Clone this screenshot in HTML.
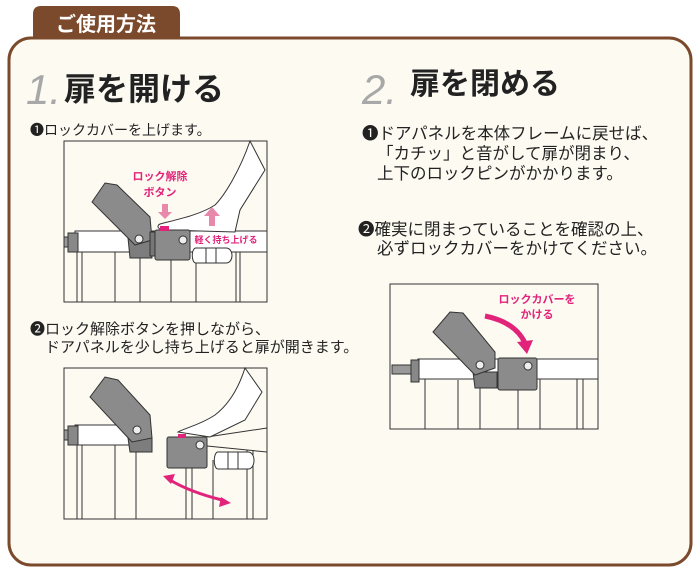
<!DOCTYPE html>
<html><head><meta charset="utf-8"><style>
html,body{margin:0;padding:0;background:#fff;}
svg{display:block}
text{font-family:"Liberation Sans","Noto Sans CJK JP",sans-serif;}
</style></head><body>
<svg width="700" height="572" viewBox="0 0 700 572" xmlns="http://www.w3.org/2000/svg">
<rect width="700" height="572" fill="#fff"/>
<path d="M33 38 L33 14 Q33 6 41 6 L172 6 Q180 6 180 14 L180 38 Z" fill="#7b4a2c"/>
<text x="106" y="31" font-size="20" font-weight="bold" fill="#fff" text-anchor="middle">ご使用方法</text>
<rect x="9" y="38" width="682" height="527" rx="22" fill="#fdfaf2" stroke="#7b4a2c" stroke-width="3"/>

<text x="26" y="104" font-size="42" font-style="italic" fill="#a8a8a8">1.</text>
<text x="64" y="100" font-size="32" font-weight="bold" fill="#222">扉を開ける</text>
<text x="362" y="104" font-size="42" font-style="italic" fill="#a8a8a8">2.</text>
<text x="410" y="94" font-size="30" font-weight="bold" fill="#222">扉を閉める</text>

<g font-size="14" fill="#222">
<text x="30" y="135">❶ロックカバーを上げます。</text>
</g>
<g font-size="15" fill="#222">
<text x="30" y="334">❷ロック解除ボタンを押しながら、</text>
<text x="45" y="352">ドアパネルを少し持ち上げると扉が開きます。</text>
</g>
<g font-size="16.5" fill="#222">
<text x="362" y="139">❶ドアパネルを本体フレームに戻せば、</text>
<text x="377" y="159">「カチッ」と音がして扉が閉まり、</text>
<text x="377" y="179">上下のロックピンがかかります。</text>
<text x="358" y="235">❷確実に閉まっていることを確認の上、</text>
<text x="377" y="254">必ずロックカバーをかけてください。</text>
</g>

<!-- Panel 1 -->
<g stroke="#333" stroke-width="1" fill="none">
<rect x="64" y="141" width="203" height="161" fill="#fdfaf2"/>
<rect x="75" y="231" width="192" height="21" fill="#fff"/>
<path d="M77 252V302M82 252V302M115 252V302M140 258V302M171 260V302M196 262V302M236 252V302M240 252V302"/>
<rect x="64" y="237" width="5" height="10" fill="#999"/>
<rect x="68" y="233" width="10" height="19" fill="#888"/>
<path d="M250 141 C240 170 225 195 215 205 C200 215 175 220 160 224 C156 226 158 230 165 230 L235 232 L240 210 L265 170Z" fill="#fff"/>
<path d="M196 248 h30 c8 0 8 15 0 15 h-30 c-5 0 -5 -15 0 -15z" fill="#fff"/>
<path d="M206 248v15M216 248v15"/>
<polygon points="128,238 150,238 152,258 130,258" fill="#7d7d7d" stroke="#333"/>
<polygon points="92,202 105,183 117,185 150,217 152,240 135,245" fill="#8b8b8b" stroke="#333"/>
<rect x="155" y="230" width="35" height="30" rx="2" fill="#8b8b8b"/>
<circle cx="183" cy="240" r="4" fill="#eee"/>
<circle cx="139" cy="239" r="4" fill="#eee"/>
<rect x="150" y="232" width="5" height="24" fill="#777"/>
</g>
<rect x="160" y="226" width="9" height="5" fill="#e2237a"/>
<g fill="#e2237a" font-size="11" font-weight="bold" text-anchor="middle">
<text x="160" y="180">ロック解除</text><text x="160" y="196">ボタン</text>
<text x="226" y="243" font-size="9">軽く持ち上げる</text>
</g>
<path d="M162 204h6v8h4l-7 7-7-7h4z" fill="#e889ac"/>
<path d="M209 226v-10h-5l8-9 8 9h-5v10z" fill="#e889ac"/>

<!-- Panel 2 -->
<g stroke="#333" stroke-width="1" fill="none">
<rect x="64" y="368" width="203" height="151" fill="#fdfaf2"/>
<rect x="75" y="425" width="55" height="20" fill="#fff"/>
<path d="M77 445V519M82 445V519M115 445V519M136 452V519M186 465V519M192 465V519M213 460V519M247 450V519M253 450V519"/>
<rect x="64" y="430" width="5" height="10" fill="#999"/>
<rect x="68" y="426" width="10" height="19" fill="#888"/>
<path d="M207 437 L267 428 M207 446 L267 452" />
<path d="M245 368 C238 390 228 405 215 415 C200 425 185 428 178 432 L210 437 L245 420 L262 392Z" fill="#fff"/>
<path d="M218 452 h30 c8 0 8 17 0 17 h-30 c-5 0 -5 -17 0 -17z" fill="#fff"/>
<path d="M228 452v17M238 452v17"/>
<polygon points="128,438 152,438 152,452 130,452" fill="#7d7d7d" stroke="#333"/>
<polygon points="90,397 105,377 118,380 150,415 152,438 132,442" fill="#8b8b8b" stroke="#333"/>
<circle cx="137" cy="430" r="4" fill="#eee"/>
<rect x="167" y="437" width="40" height="31" rx="2" fill="#8b8b8b"/>
<circle cx="200" cy="445" r="4" fill="#eee"/>
</g>
<rect x="178" y="434" width="8" height="4" fill="#e2237a"/>
<path d="M170 480 Q190 492 222 500" stroke="#e2237a" stroke-width="3" fill="none"/>
<path d="M163 476l12 -2 -4 10z M231 503l-12 4 2 -10z" fill="#e2237a"/>

<!-- Panel 3 -->
<g stroke="#333" stroke-width="1" fill="none">
<rect x="390" y="284" width="208" height="145" fill="#fdfaf2"/>
<rect x="418" y="359" width="180" height="20" fill="#fff"/>
<path d="M425 379V429M458 380V429M480 388V429M518 390V429M540 379V429M577 379V429M583 379V429"/>
<rect x="392" y="365" width="20" height="9" fill="#999"/>
<rect x="411" y="360" width="8" height="22" fill="#888"/>
<polygon points="473,372 497,372 497,388 475,388" fill="#7d7d7d" stroke="#333"/>
<polygon points="433,332 450,312 463,313 495,352 495,368 475,375" fill="#8b8b8b" stroke="#333"/>
<circle cx="480" cy="365" r="4" fill="#eee"/>
<rect x="498" y="358" width="39" height="32" rx="2" fill="#8b8b8b"/>
<circle cx="528" cy="366" r="4" fill="#eee"/>
</g>
<path d="M485 316 Q515 322 525 343" stroke="#e2237a" stroke-width="5" fill="none"/>
<path d="M517 342l16 -2 -6 14z" fill="#e2237a"/>
<g fill="#e2237a" font-size="11" font-weight="bold" text-anchor="middle">
<text x="537" y="303">ロックカバーを</text><text x="537" y="318">かける</text>
</g>
</svg>
</body></html>
